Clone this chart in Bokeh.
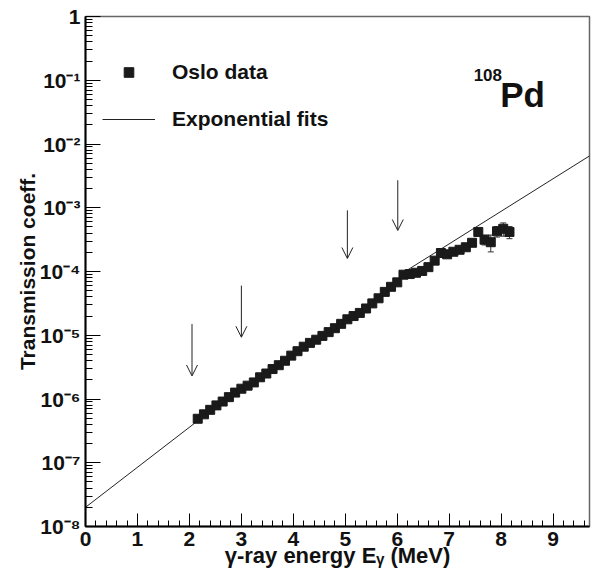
from bokeh.plotting import figure
from bokeh.models import (ColumnDataSource, Range1d, FixedTicker, SingleIntervalTicker,
                          CustomJSTickFormatter, Legend, LegendItem, Whisker, TeeHead,
                          Arrow, OpenHead, Label)
from bokeh.embed import file_html
from bokeh.resources import INLINE

# ---- data ----
energy = [2.16, 2.28, 2.40, 2.52, 2.64, 2.76, 2.88, 3.00, 3.12, 3.24,
          3.36, 3.48, 3.60, 3.72, 3.84, 3.96, 4.08, 4.20, 4.32, 4.44,
          4.56, 4.68, 4.80, 4.92, 5.04, 5.16, 5.28, 5.40, 5.52, 5.64,
          5.76, 5.88, 6.00, 6.12, 6.24, 6.36, 6.48, 6.60, 6.72, 6.84,
          6.96, 7.08, 7.20, 7.32, 7.44, 7.56, 7.68, 7.80, 7.92, 8.04,
          8.16]
tcoef = [4.90e-7, 5.75e-7, 6.76e-7, 7.94e-7, 9.12e-7, 1.07e-6, 1.26e-6, 1.45e-6, 1.62e-6, 1.82e-6,
         2.19e-6, 2.51e-6, 2.95e-6, 3.39e-6, 3.98e-6, 4.79e-6, 5.62e-6, 6.61e-6, 7.59e-6, 8.51e-6,
         9.77e-6, 1.12e-5, 1.29e-5, 1.51e-5, 1.78e-5, 2.00e-5, 2.24e-5, 2.63e-5, 3.16e-5, 3.80e-5,
         4.79e-5, 5.75e-5, 6.76e-5, 8.91e-5, 9.12e-5, 9.55e-5, 1.02e-4, 1.17e-4, 1.48e-4, 1.95e-4,
         1.86e-4, 2.04e-4, 2.19e-4, 2.40e-4, 2.82e-4, 4.17e-4, 3.16e-4, 2.88e-4, 4.27e-4, 4.68e-4,
         4.17e-4]
tcoef_err = [1.5e-8, 1.7e-8, 2.0e-8, 2.4e-8, 2.7e-8, 3.2e-8, 3.8e-8, 4.4e-8, 4.9e-8, 5.5e-8,
             6.6e-8, 7.5e-8, 8.9e-8, 1.0e-7, 1.2e-7, 1.4e-7, 1.7e-7, 2.0e-7, 2.3e-7, 2.6e-7,
             2.9e-7, 3.4e-7, 3.9e-7, 4.5e-7, 5.3e-7, 6.0e-7, 6.7e-7, 7.9e-7, 9.5e-7, 1.1e-6,
             1.4e-6, 1.7e-6, 2.0e-6, 2.7e-6, 2.7e-6, 2.9e-6, 3.1e-6, 3.5e-6, 4.4e-6, 5.9e-6,
             7.0e-6, 9.0e-6, 1.5e-5, 2.0e-5, 3.0e-5, 3.5e-5, 5.5e-5, 8.5e-5, 8.0e-5, 1.1e-4,
             9.0e-5]

fit_low_x = [0.0, 2.13]
fit_low_y = [2.0e-8, 4.35e-7]
fit_high_x = [6.07, 9.70]
fit_high_y = [9.1e-5, 6.5e-3]

arrow_x = [2.05, 3.00, 5.04, 6.01]
arrow_top = [1.5e-5, 6.0e-5, 9.1e-4, 2.7e-3]
arrow_tip = [2.3e-6, 9.3e-6, 1.6e-4, 4.4e-4]

y_decades = [-8, -7, -6, -5, -4, -3, -2, -1, 0]

FONT = "Liberation Sans"

# ---- figure ----
p = figure(width=600, height=580, x_range=Range1d(0, 9.7), y_range=Range1d(1e-8, 1),
           y_axis_type="log", output_backend="svg", toolbar_location=None,
           min_border_left=85, min_border_right=11, min_border_top=16, min_border_bottom=54)
p.xgrid.visible = False
p.ygrid.visible = False
p.outline_line_color = "#666666"
p.outline_line_width = 1.5
p.background_fill_color = "white"
p.border_fill_color = "white"

# x axis
xa = p.xaxis[0]
xa.ticker = SingleIntervalTicker(interval=1, num_minor_ticks=5)
xa.major_tick_in = 13
xa.major_tick_out = 0
xa.minor_tick_in = 6
xa.minor_tick_out = 0
xa.axis_line_width = 2
xa.axis_line_color = "black"
xa.major_tick_line_color = "black"
xa.minor_tick_line_color = "black"
xa.major_label_text_font = FONT
xa.major_label_text_font_style = "bold"
xa.major_label_text_font_size = "21px"
xa.major_label_text_color = "#111111"
xa.major_label_standoff = 5
xa.axis_label = "\u03b3-ray energy E\u1d67 (MeV)"
xa.axis_label_text_font = FONT
xa.axis_label_text_font_style = "bold"
xa.axis_label_text_font_size = "22px"
xa.axis_label_text_color = "#111111"
xa.axis_label_standoff = -6

# y axis
ya = p.yaxis[0]
ya.ticker = FixedTicker(ticks=[10.0 ** k for k in y_decades],
                        minor_ticks=[m * 10.0 ** k for k in y_decades[:-1] for m in range(2, 10)])
ya.formatter = CustomJSTickFormatter(code="""
const e = Math.round(Math.log10(tick));
if (e === 0) { return "1"; }
const sup = {"-": "\\u207b", "0": "\\u2070", "1": "\\u00b9", "2": "\\u00b2", "3": "\\u00b3",
             "4": "\\u2074", "5": "\\u2075", "6": "\\u2076", "7": "\\u2077", "8": "\\u2078", "9": "\\u2079"};
return "10" + String(e).split("").map(c => sup[c]).join("");
""")
ya.major_tick_in = 15
ya.major_tick_out = 0
ya.minor_tick_in = 7
ya.minor_tick_out = 0
ya.axis_line_width = 2
ya.axis_line_color = "black"
ya.major_tick_line_color = "black"
ya.minor_tick_line_color = "black"
ya.major_label_text_font = FONT
ya.major_label_text_font_style = "bold"
ya.major_label_text_font_size = "21px"
ya.major_label_text_color = "#111111"
ya.major_label_standoff = 5
ya.axis_label = "Transmission coeff."
ya.axis_label_text_font = FONT
ya.axis_label_text_font_style = "bold"
ya.axis_label_text_font_size = "21px"
ya.axis_label_text_color = "#111111"
ya.axis_label_standoff = -2

# fits
fit1 = p.line(fit_low_x, fit_low_y, line_color="#222222", line_width=1)
fit2 = p.line(fit_high_x, fit_high_y, line_color="#222222", line_width=1)

# error bars
src = ColumnDataSource(dict(
    x=energy, y=tcoef,
    upper=[v + e for v, e in zip(tcoef, tcoef_err)],
    lower=[v - e for v, e in zip(tcoef, tcoef_err)],
))
wh = Whisker(base="x", upper="upper", lower="lower", source=src,
             line_color="#333333", line_width=1,
             upper_head=TeeHead(size=6, line_color="#333333", line_width=1),
             lower_head=TeeHead(size=6, line_color="#333333", line_width=1))
p.add_layout(wh)

pts = p.scatter("x", "y", source=src, marker="square", size=9,
                fill_color="#1a1a1a", line_color="#1a1a1a")

# arrows
asrc = ColumnDataSource(dict(x=arrow_x, top=arrow_top, tip=arrow_tip))
p.add_layout(Arrow(x_start="x", y_start="top", x_end="x", y_end="tip", source=asrc,
                   line_color="#222222", line_width=1,
                   end=OpenHead(size=11, line_color="#222222", line_width=1)))

# legend (location = bottom-left corner, in px from the frame's bottom-left)
legend = Legend(items=[LegendItem(label="Oslo data", renderers=[pts]),
                       LegendItem(label="Exponential fits", renderers=[fit1])],
                location=(17, 395), padding=0, margin=0, spacing=23,
                glyph_width=53, glyph_height=24, label_height=24, label_standoff=17,
                border_line_alpha=0, background_fill_alpha=0,
                label_text_font=FONT, label_text_font_style="bold",
                label_text_font_size="21px", label_text_color="#111111")
p.add_layout(legend)

# nucleus label
p.add_layout(Label(x=7.47, y=0.123, text="108", text_font=FONT, text_font_style="bold",
                   text_font_size="17px", text_color="#111111", text_baseline="alphabetic"))
p.add_layout(Label(x=7.98, y=0.060, text="Pd", text_font=FONT, text_font_style="bold",
                   text_font_size="35px", text_color="#111111", text_baseline="alphabetic"))

open("out.html", "w", encoding="utf-8").write(file_html(p, INLINE))
